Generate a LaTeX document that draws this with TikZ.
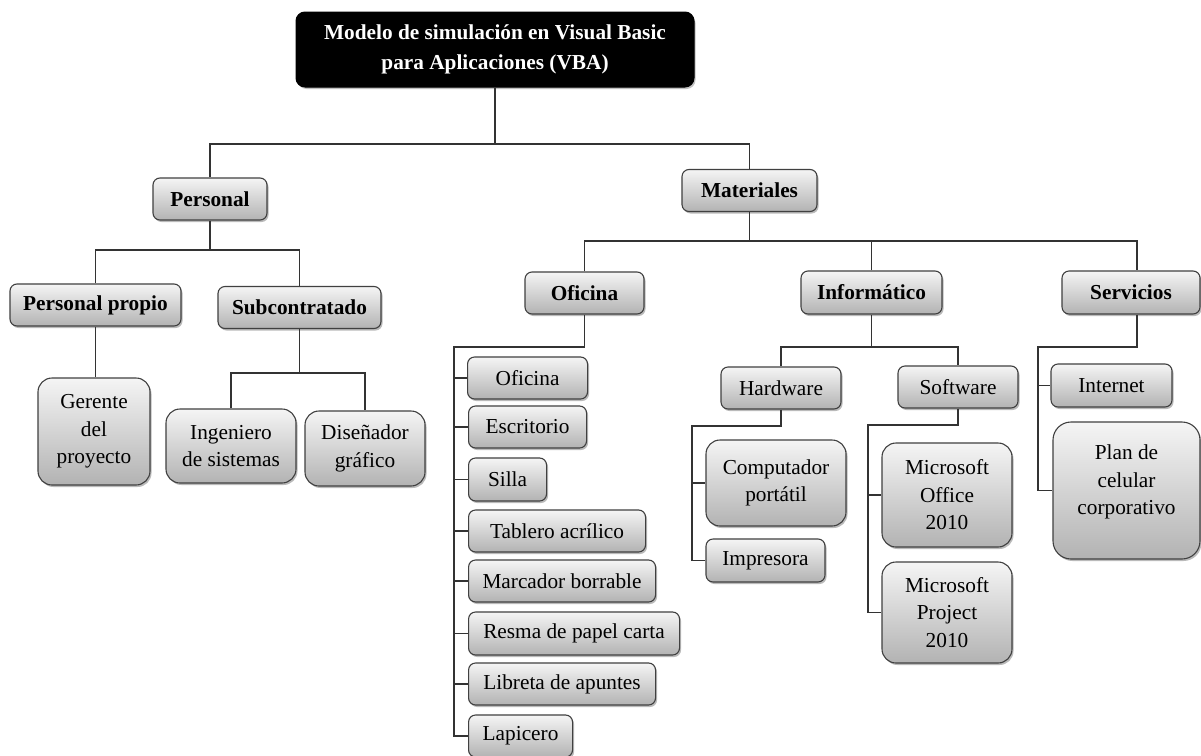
\documentclass[tikz,border=0pt]{standalone}
\usepackage{fontspec}
\setmainfont{Liberation Serif}
\usetikzlibrary{shadows}
\begin{document}
\begin{tikzpicture}[x=1pt,y=1pt,
  conn/.style={draw=black!80, line width=1.1pt},
  box/.style={draw=black!75, line width=1.1pt, rounded corners=7pt,
    top color=white!96!black, bottom color=white!70!black,
    drop shadow={shadow xshift=1.5pt, shadow yshift=-2pt, opacity=0.45, fill=black!60},
    inner sep=0pt, align=center, text=black,
    font=\fontsize{21.3}{27.5}\selectfont},
  hbox/.style={box, font=\bfseries\fontsize{21.3}{27.5}\selectfont},
  rootbox/.style={draw=black, fill=black, rounded corners=9pt, line width=1pt,
    drop shadow={shadow xshift=1.5pt, shadow yshift=-2pt, opacity=0.4, fill=black!60},
    inner sep=0pt, align=center, text=white,
    font=\bfseries\fontsize{21.3}{30}\selectfont},
  bigr/.style={rounded corners=14pt}
]
\useasboundingbox[fill=white] (0,0) rectangle (1201,-755);

% nodes
\node[rootbox, minimum width=398, minimum height=75] (root) at (495,-49.5)
  {Modelo de simulación en Visual Basic\\para Aplicaciones (VBA)};

\node[hbox, minimum width=114, minimum height=42] (pers) at (210,-199) {Personal};
\node[hbox, minimum width=135, minimum height=42] (mat) at (749.5,-190.5) {Materiales};

\node[hbox, minimum width=171, minimum height=42] (pprop) at (95.5,-305) {Personal propio};
\node[hbox, minimum width=163, minimum height=42] (subc) at (299.5,-307.5) {Subcontratado};

\node[box, bigr, minimum width=112, minimum height=107] (ger) at (94,-431.5) {Gerente\\del\\proyecto};
\node[box, bigr, minimum width=130, minimum height=74] (ing) at (231,-446) {Ingeniero\\de sistemas};
\node[box, bigr, minimum width=120, minimum height=75] (dis) at (365,-448.5) {Diseñador\\gráfico};

\node[hbox, minimum width=119, minimum height=42] (ofi) at (584.5,-293) {Oficina};
\node[hbox, minimum width=141, minimum height=43] (inf) at (871.5,-292.5) {Informático};
\node[hbox, minimum width=138, minimum height=43] (serv) at (1131,-292.5) {Servicios};

\node[box, anchor=west, minimum width=120, minimum height=42] (it1) at (467,-378) {Oficina};
\node[box, anchor=west, minimum width=118, minimum height=42] (it2) at (468,-427) {Escritorio};
\node[box, anchor=west, minimum width=78, minimum height=43] (it3) at (468,-479.5) {Silla};
\node[box, anchor=west, minimum width=177, minimum height=42] (it4) at (468,-531) {Tablero acrílico};
\node[box, anchor=west, minimum width=187, minimum height=42] (it5) at (468,-581) {Marcador borrable};
\node[box, anchor=west, minimum width=211, minimum height=43] (it6) at (468,-633.5) {Resma de papel carta};
\node[box, anchor=west, minimum width=187, minimum height=42] (it7) at (468,-684) {Libreta de apuntes};
\node[box, anchor=west, minimum width=104, minimum height=42] (it8) at (468,-736) {Lapicero};

\node[box, minimum width=120, minimum height=42] (hw) at (781,-388) {Hardware};
\node[box, minimum width=120, minimum height=42] (sw) at (958,-387) {Software};
\node[box, minimum width=121, minimum height=43] (inet) at (1111.5,-385.5) {Internet};

\node[box, bigr, minimum width=140, minimum height=86] (comp) at (776,-483) {Computador\\portátil};
\node[box, minimum width=119, minimum height=43] (imp) at (765.5,-560.5) {Impresora};
\node[box, bigr, minimum width=130, minimum height=104] (off) at (947,-495) {Microsoft\\Office\\2010};
\node[box, bigr, minimum width=130, minimum height=101] (proj) at (947,-612.5) {Microsoft\\Project\\2010};
\node[box, rounded corners=18pt, minimum width=147, minimum height=137] (plan) at (1126.5,-490.5) {Plan de\\celular\\corporativo\\[-6pt]\mbox{}};

% bus coordinates
\coordinate (b0) at (495,-144);
\coordinate (b1) at (210,-250);
\coordinate (b2) at (299.5,-373);
\coordinate (b3) at (749.5,-241);
\coordinate (b4) at (454,-347);
\coordinate (b5) at (871.5,-347);
\coordinate (b6) at (692,-426);
\coordinate (b7) at (868,-425);
\coordinate (b8) at (1038,-347);

% connectors
\draw[conn] (root.south) -- (b0);
\draw[conn] (pers.north) |- (b0) -| (mat.north);

\draw[conn] (pers.south) -- (b1);
\draw[conn] (pprop.north) |- (b1) -| (subc.north);
\draw[conn] (pprop.south) -- (pprop.south |- ger.north);

\draw[conn] (subc.south) -- (b2);
\draw[conn] (ing.north) |- (b2) -| (dis.north);

\draw[conn] (mat.south) -- (b3);
\draw[conn] (ofi.north) |- (b3) -| ([xshift=6pt]serv.north);
\draw[conn] (inf.north) -- (inf.north |- b3);

\draw[conn] (ofi.south) |- (b4) -- (b4 |- it8.west) -- (it8.west);
\foreach \n in {it1,it2,it3,it4,it5,it6,it7}
  \draw[conn] (b4 |- \n.west) -- (\n.west);

\draw[conn] (inf.south) -- (b5);
\draw[conn] (hw.north) |- (b5) -| (sw.north);

\draw[conn] (hw.south) |- (b6) -- (b6 |- imp.west) -- (imp.west);
\draw[conn] (b6 |- comp.west) -- (comp.west);

\draw[conn] (sw.south) |- (b7) -- (b7 |- proj.west) -- (proj.west);
\draw[conn] (b7 |- off.west) -- (off.west);

\draw[conn] ([xshift=6pt]serv.south) |- (b8) -- (b8 |- plan.west) -- (plan.west);
\draw[conn] (b8 |- inet.west) -- (inet.west);
\end{tikzpicture}
\end{document}
